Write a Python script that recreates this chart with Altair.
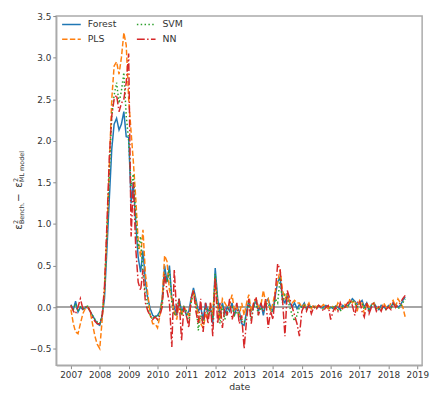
import altair as alt
import pandas as pd

models = ["Forest", "PLS", "SVM", "NN"]
legend_order = ["Forest", "PLS", "SVM", "NN"]
colors = ["#1f77b4", "#ff7f0e", "#2ca02c", "#d62728"]
dashes = [[1, 0], [5.5, 2.4], [1.5, 2.4], [8, 2.4, 1.5, 2.4]]
year_ticks = list(range(2007, 2020))
y_ticks = [-0.5, 0.0, 0.5, 1.0, 1.5, 2.0, 2.5, 3.0, 3.5]

forest = [
    0.03, -0.03, 0.07, -0.06, 0.00, -0.03, -0.01, 0.00, -0.05, -0.10, -0.15, -0.20,
    -0.22, -0.10, 0.10, 0.70, 1.30, 1.90, 2.20, 2.27, 2.13, 2.20, 2.35, 2.05,
    2.04, 1.25, 1.50, 1.00, 0.60, 0.42, 0.68, 0.30, 0.10, -0.02, -0.10, -0.12,
    -0.10, -0.05, 0.10, 0.50, 0.30, 0.50, 0.10, 0.00, -0.10, 0.10, -0.05, 0.00,
    -0.10, -0.05, 0.10, 0.23, 0.10, -0.05, 0.00, -0.15, 0.05, -0.05, 0.00, -0.20,
    0.47, 0.10, -0.10, 0.05, -0.08, 0.00, -0.05, 0.05, -0.10, 0.00, -0.05, -0.20,
    -0.22, -0.05, 0.08, -0.05, 0.00, 0.10, -0.05, 0.05, -0.10, 0.05, 0.10, 0.00,
    -0.05, 0.15, 0.30, 0.36, 0.10, 0.05, 0.15, 0.05, 0.00, 0.05, -0.02, 0.03,
    0.00, 0.05, -0.02, 0.02, 0.00, 0.01, 0.00, 0.02, -0.01, 0.00, 0.02, 0.00,
    0.00, -0.02, 0.01, 0.00, -0.03, 0.02, 0.00, 0.01, 0.05, 0.10, 0.07, 0.03,
    0.05, 0.08, 0.00, 0.05, -0.05, 0.03, 0.05, 0.00, -0.03, 0.02, 0.00, -0.02,
    0.02, 0.00, 0.05, 0.03, 0.00, 0.02, 0.08, 0.12,
]
pls = [
    -0.03, -0.20, -0.30, -0.32, -0.20, -0.08, -0.02, 0.00, -0.05, -0.20, -0.35, -0.45,
    -0.50, -0.15, 0.20, 0.90, 1.70, 2.50, 2.90, 2.95, 2.80, 3.00, 3.30, 3.15,
    2.50, 2.10, 1.75, 1.30, 0.80, 0.60, 0.93, 0.40, 0.15, -0.10, -0.20, -0.20,
    -0.25, -0.10, 0.10, 0.62, 0.55, 0.20, 0.10, -0.05, -0.15, 0.05, -0.10, 0.00,
    -0.05, -0.10, 0.05, 0.20, 0.05, -0.10, -0.20, -0.25, -0.10, -0.15, 0.05, -0.10,
    0.35, 0.00, -0.15, 0.10, 0.05, 0.00, 0.03, 0.15, -0.05, 0.00, -0.10, 0.05,
    -0.10, 0.05, 0.15, -0.05, 0.05, 0.10, 0.00, 0.02, 0.20, 0.05, 0.10, -0.05,
    0.05, 0.20, 0.30, 0.45, 0.20, 0.10, 0.15, 0.05, 0.05, 0.08, 0.05, 0.05,
    0.00, 0.03, 0.00, 0.05, -0.02, 0.03, 0.00, 0.02, 0.00, 0.03, 0.00, -0.02,
    0.02, 0.00, -0.03, 0.05, 0.00, -0.02, 0.03, 0.00, 0.10, 0.05, 0.08, -0.05,
    0.08, 0.05, -0.08, 0.05, 0.00, 0.03, 0.05, -0.02, 0.00, -0.03, 0.05, 0.00,
    -0.02, 0.05, 0.08, 0.00, 0.10, 0.05, 0.00, -0.12,
]
svm = [
    0.02, -0.03, 0.04, -0.05, 0.00, -0.02, 0.00, 0.01, -0.05, -0.10, -0.15, -0.18,
    -0.20, -0.08, 0.20, 0.90, 1.60, 2.30, 2.55, 2.70, 2.45, 2.60, 2.82, 2.30,
    2.00, 1.45, 1.60, 1.10, 0.70, 0.85, 0.40, 0.15, 0.00, -0.10, -0.15, -0.10,
    -0.15, -0.05, 0.05, 0.40, 0.30, 0.45, 0.05, -0.10, -0.05, 0.10, -0.10, 0.00,
    -0.05, -0.20, 0.05, 0.18, 0.05, -0.28, -0.10, -0.20, 0.00, -0.10, 0.00, -0.15,
    0.40, 0.05, -0.20, 0.02, -0.15, -0.05, 0.00, 0.00, -0.10, -0.05, -0.10, -0.15,
    -0.18, -0.10, 0.05, -0.15, 0.00, 0.05, -0.10, 0.00, -0.05, 0.03, 0.05, -0.05,
    -0.05, 0.10, 0.05, 0.35, 0.05, 0.15, 0.10, 0.00, -0.10, -0.17, -0.10, 0.00,
    0.00, 0.02, -0.03, 0.02, 0.00, 0.00, -0.02, 0.02, 0.00, -0.02, 0.00, 0.00,
    -0.02, 0.00, 0.02, -0.03, -0.05, 0.00, 0.02, 0.00, 0.05, 0.08, 0.05, 0.00,
    0.03, 0.05, -0.03, 0.05, -0.05, 0.02, 0.03, -0.02, -0.03, 0.00, -0.02, -0.03,
    0.00, -0.02, 0.03, 0.02, -0.02, 0.00, 0.05, 0.10,
]
nn = [
    0.02, -0.05, -0.08, 0.00, 0.10, -0.02, 0.00, 0.01, -0.05, -0.12, -0.17, -0.20,
    -0.20, -0.10, 0.25, 1.00, 1.80, 2.30, 2.50, 2.55, 2.35, 2.45, 2.50, 2.70,
    3.05, 0.85, 1.50, 0.70, 0.30, 0.20, 0.45, 0.05, -0.05, -0.10, -0.15, -0.12,
    -0.15, -0.10, 0.00, 0.40, 0.20, 0.05, -0.48, 0.45, -0.10, 0.10, -0.40, 0.00,
    -0.10, -0.25, 0.10, 0.20, -0.05, -0.20, 0.10, -0.30, 0.05, -0.20, 0.05, -0.35,
    0.35, -0.20, 0.05, -0.25, 0.00, -0.10, 0.10, -0.15, -0.05, 0.05, -0.20, -0.10,
    -0.50, -0.15, 0.10, -0.20, 0.05, 0.12, -0.10, 0.05, -0.05, 0.10, -0.25, -0.05,
    -0.15, 0.20, 0.52, 0.45, 0.10, -0.35, 0.20, 0.10, 0.00, -0.10, -0.20, -0.35,
    -0.05, 0.02, -0.05, 0.03, -0.08, 0.00, -0.03, 0.02, 0.00, -0.05, 0.00, 0.02,
    -0.15, -0.05, 0.00, -0.05, 0.05, -0.03, 0.00, 0.05, 0.08, 0.02, -0.10, 0.05,
    0.08, -0.05, -0.12, 0.05, -0.08, 0.00, 0.05, -0.05, 0.00, -0.05, 0.03, -0.03,
    0.00, -0.03, 0.05, 0.00, 0.02, 0.05, 0.10, 0.14,
]

# y-axis title pieces: (text, font size, shift across baseline, advance along)
title_pieces = [
    ("ε", 10.5, 0.0, 5.8),
    ("2", 6.5, -4.0, 0.0),
    ("Bench.", 6.5, 2.5, 22.5),
    ("−", 10.5, 0.0, 12.0),
    ("ε", 10.5, 0.0, 5.8),
    ("2", 6.5, -4.0, 0.0),
    ("ML model", 6.5, 2.5, 31.0),
]

dates = pd.date_range("2007-01-01", periods=len(forest), freq="MS")
series = {"Forest": forest, "PLS": pls, "SVM": svm, "NN": nn}
rows = []
for m in models:
    for d, v in zip(dates, series[m]):
        rows.append({"date": d.strftime("%Y-%m-%d"), "value": v, "model": m})
df = pd.DataFrame(rows)

H = 355
W = 372

x_enc = alt.X(
    "date:T",
    scale=alt.Scale(domain=[alt.DateTime(year=2006, month=6, date=29),
                            alt.DateTime(year=2019, month=3, date=3)]),
    axis=alt.Axis(values=[alt.DateTime(year=y, month=1, date=1) for y in year_ticks],
                  format="%Y", title="date"),
)
y_enc = alt.Y(
    "value:Q",
    scale=alt.Scale(domain=[-0.7, 3.5], nice=False, zero=False),
    axis=alt.Axis(values=y_ticks, format=".1f", title=None),
)
leg = alt.Legend(
    title=None, orient="none", legendX=5, legendY=-2, columns=2,
    symbolType="stroke", symbolSize=360, symbolStrokeWidth=1.6,
    labelFontSize=9.5, labelFont="DejaVu Sans", labelColor="#333",
    rowPadding=-5, columnPadding=16, labelOffset=6, padding=0,
)
color_enc = alt.Color("model:N", scale=alt.Scale(domain=legend_order, range=colors), legend=leg)
dash_enc = alt.StrokeDash("model:N", scale=alt.Scale(domain=legend_order, range=dashes), legend=leg)

zero = alt.Chart(pd.DataFrame({"value": [0.0]})).mark_rule(color="#888", strokeWidth=1.5).encode(y="value:Q")

layers = [zero]
for m in models:
    layers.append(
        alt.Chart(df).transform_filter(alt.datum.model == m)
        .mark_line(strokeWidth=1.5, clip=True)
        .encode(x=x_enc, y=y_enc, color=color_enc, strokeDash=dash_enc)
    )

# rotated y-axis title built from text pieces (super/subscripts)
total = sum(p[3] for p in title_pieces) + 2.5
pos = H / 2 + total / 2
one = pd.DataFrame({"k": [0]})
base_x = -35
for txt, fs, shift, adv in title_pieces:
    layers.append(
        alt.Chart(one).mark_text(
            text=txt, fontSize=fs, font="DejaVu Sans", color="#333",
            angle=270, align="left", baseline="alphabetic",
        ).encode(x=alt.value(base_x + shift), y=alt.value(pos))
    )
    pos -= adv
    if txt == "−":
        pos -= 2.5

chart = alt.layer(*layers).properties(
    width=W, height=H,
    autosize=alt.AutoSizeParams(type="none"),
    padding={"left": 49, "top": 5, "right": 8, "bottom": 25},
).configure_view(
    stroke="#aaa", strokeWidth=1.5
).configure_axis(
    grid=False, domainColor="#aaa", domainWidth=1.5, tickColor="#888", tickSize=3.5,
    labelFont="DejaVu Sans", labelFontSize=9, labelColor="#333", labelPadding=2,
    titleFont="DejaVu Sans", titleFontSize=9.5, titleFontWeight="normal", titleColor="#333",
).configure_axisX(titlePadding=2)

chart.save("out.html", embed_options={"renderer": "svg", "actions": False})
